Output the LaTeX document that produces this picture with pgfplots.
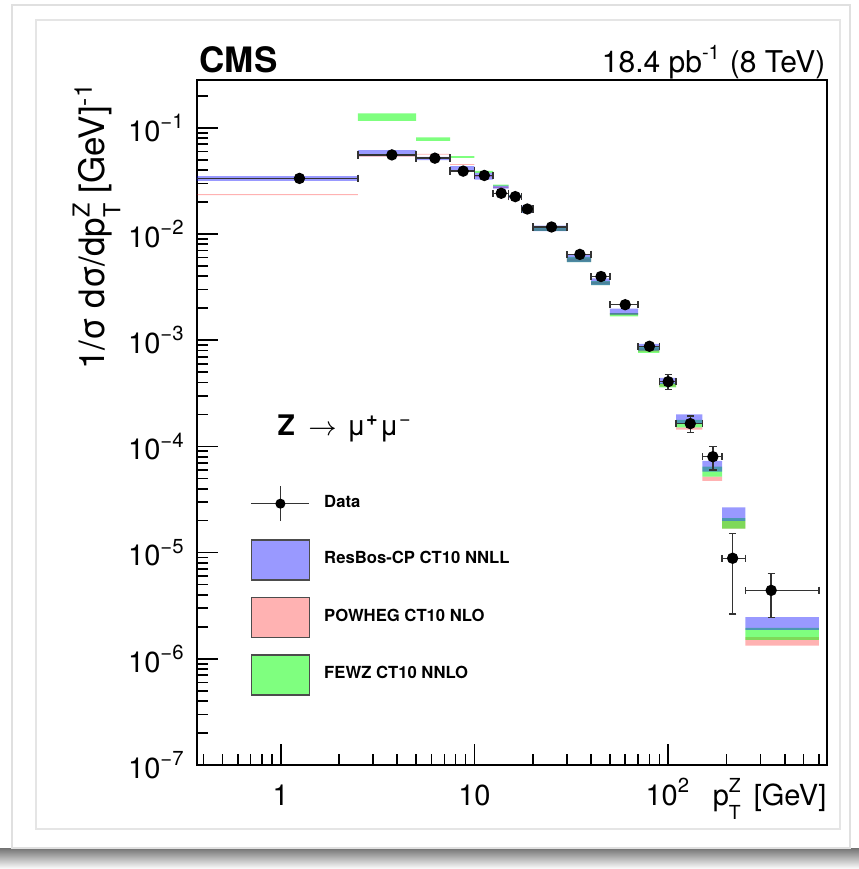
\documentclass[border=0pt]{standalone}
\usepackage{fontspec}
\setmainfont{TeX Gyre Heros}
\usepackage{pgfplots}
\usepackage{pgfplotstable}
\pgfplotsset{compat=1.18}

\pgfplotstableread{
x y xm xp ym yp
1.25 0.0334 0.95 1.25 0.0006 0.0006
3.75 0.0556 1.25 1.25 0.0008 0.0008
6.25 0.0518 1.25 1.25 0.0008 0.0008
8.75 0.0391 1.25 1.25 0.0006 0.0006
11.25 0.0356 1.25 1.25 0.0005 0.0005
13.75 0.0242 1.25 1.25 0.0004 0.0004
16.25 0.0225 1.25 1.25 0.0004 0.0004
18.75 0.0172 1.25 1.25 0.0003 0.0003
25 0.01165 5 5 0.0002 0.0002
35 0.00643 5 5 0.00012 0.00012
45 0.00398 5 5 0.00008 0.00008
60 0.00216 10 10 0.00005 0.00005
80 0.000877 10 10 0.00003 0.00003
100 0.000407 10 10 0.000064 0.000067
130 0.000164 20 20 0.000029 0.000030
170 0.0000800 20 20 0.0000198 0.0000193
215 0.00000885 25 35 0.00000622 0.00000625
340 0.00000441 90 260 0.00000197 0.00000193
}\datatable

\begin{document}
\begin{tikzpicture}
\useasboundingbox (-59.1pt,-31.2pt) rectangle (198.6pt,229.5pt);
% card decoration
\shade[top color=black!55, bottom color=white] (-59.1pt,-31.2pt) rectangle (198.6pt,-24.9pt);
\draw[black!12, line width=0.4pt] (-55.5pt,-24.9pt) rectangle (195.9pt,228pt);
\draw[black!10, line width=0.6pt] (-48.3pt,-19.2pt) rectangle (192.9pt,223.5pt);

\begin{axis}[
  at={(0pt,0pt)}, anchor=south west,
  scale only axis, width=189pt, height=205.5pt,
  xmode=log, ymode=log,
  xmin=0.37, xmax=660, ymin=1e-7, ymax=0.282,
  axis line style={line width=0.6pt},
  tick style={line width=0.5pt, black},
  tick align=inside, tick pos=left,
  major tick length=6.3pt, minor tick length=3.3pt,
  xtick={1,10,100}, xticklabels={1,10,10\textsuperscript{2}},
  minor xtick={0.4,0.5,0.6,0.7,0.8,0.9,2,3,4,5,6,7,8,9,20,30,40,50,60,70,80,90,200,300,400,500,600},
  ytick={1e-7,1e-6,1e-5,1e-4,1e-3,1e-2,1e-1},
  yticklabels={10\textsuperscript{−7},10\textsuperscript{−6},10\textsuperscript{−5},10\textsuperscript{−4},10\textsuperscript{−3},10\textsuperscript{−2},10\textsuperscript{−1}},
  minor ytick={2e-7,3e-7,4e-7,5e-7,6e-7,7e-7,8e-7,9e-7,
    2e-6,3e-6,4e-6,5e-6,6e-6,7e-6,8e-6,9e-6,
    2e-5,3e-5,4e-5,5e-5,6e-5,7e-5,8e-5,9e-5,
    2e-4,3e-4,4e-4,5e-4,6e-4,7e-4,8e-4,9e-4,
    2e-3,3e-3,4e-3,5e-3,6e-3,7e-3,8e-3,9e-3,
    2e-2,3e-2,4e-2,5e-2,6e-2,7e-2,8e-2,9e-2,2e-1},
  ticklabel style={font=\fontsize{8.7}{10}\selectfont},
  xticklabel style={anchor=base, yshift=-12pt},
  unbounded coords=jump,
  legend style={at={(0.084,0.4117)}, anchor=north west, draw=none, fill=none,
    inner sep=0pt, row sep=4.7pt, column sep=4.2pt,
    font=\bfseries\fontsize{5}{6}\selectfont,
    cells={anchor=west}, nodes={inner sep=0pt}},
]
% POWHEG (pink)
\addplot[forget plot, draw=none, fill=red, fill opacity=0.3] coordinates {
(0.3,0.0232)(2.5,0.0232)(2.5,0.0237)(0.3,0.0237)(nan,nan)
(2.5,0.0536)(5,0.0536)(5,0.0546)(2.5,0.0546)(nan,nan)
(5,0.0560)(7.5,0.0560)(7.5,0.0570)(5,0.0570)(nan,nan)
(7.5,0.0447)(10,0.0447)(10,0.0456)(7.5,0.0456)(nan,nan)
(10,0.0345)(12.5,0.0345)(12.5,0.0352)(10,0.0352)(nan,nan)
(12.5,0.0272)(15,0.0272)(15,0.0280)(12.5,0.0280)(nan,nan)
(15,0.0220)(17.5,0.0220)(17.5,0.0228)(15,0.0228)(nan,nan)
(17.5,0.0160)(20,0.0160)(20,0.0172)(17.5,0.0172)(nan,nan)
(20,0.0107)(30,0.0107)(30,0.0113)(20,0.0113)(nan,nan)
(30,0.00550)(40,0.00550)(40,0.00590)(30,0.00590)(nan,nan)
(40,0.00335)(50,0.00335)(50,0.00355)(40,0.00355)(nan,nan)
(50,0.00172)(70,0.00172)(70,0.00180)(50,0.00180)(nan,nan)
(70,0.00078)(90,0.00078)(90,0.00084)(70,0.00084)(nan,nan)
(90,0.000365)(110,0.000365)(110,0.00039)(90,0.00039)(nan,nan)
(110,0.000144)(150,0.000144)(150,0.000151)(110,0.000151)(nan,nan)
(150,0.0000475)(190,0.0000475)(190,0.000052)(150,0.000052)(nan,nan)
(190,0.0000168)(250,0.0000168)(250,0.0000199)(190,0.0000199)(nan,nan)
(250,0.00000133)(600,0.00000133)(600,0.0000016)(250,0.0000016)
};
% FEWZ (green)
\addplot[forget plot, draw=none, fill=green, fill opacity=0.5] coordinates {
(2.5,0.116)(5,0.116)(5,0.137)(2.5,0.137)(nan,nan)
(5,0.0754)(7.5,0.0754)(7.5,0.0812)(5,0.0812)(nan,nan)
(7.5,0.0520)(10,0.0520)(10,0.0540)(7.5,0.0540)(nan,nan)
(10,0.0377)(12.5,0.0377)(12.5,0.0394)(10,0.0394)(nan,nan)
(12.5,0.0282)(15,0.0282)(15,0.0292)(12.5,0.0292)(nan,nan)
(15,0.0224)(17.5,0.0224)(17.5,0.0232)(15,0.0232)(nan,nan)
(17.5,0.0160)(20,0.0160)(20,0.0180)(17.5,0.0180)(nan,nan)
(20,0.0107)(30,0.0107)(30,0.0115)(20,0.0115)(nan,nan)
(30,0.00545)(40,0.00545)(40,0.0061)(30,0.0061)(nan,nan)
(40,0.0033)(50,0.0033)(50,0.0036)(40,0.0036)(nan,nan)
(50,0.00168)(70,0.00168)(70,0.00180)(50,0.00180)(nan,nan)
(70,0.00076)(90,0.00076)(90,0.00086)(70,0.00086)(nan,nan)
(90,0.00036)(110,0.00036)(110,0.000395)(90,0.000395)(nan,nan)
(110,0.000151)(150,0.000151)(150,0.000178)(110,0.000178)(nan,nan)
(150,0.000052)(190,0.000052)(190,0.0000645)(150,0.0000645)(nan,nan)
(190,0.0000168)(250,0.0000168)(250,0.0000211)(190,0.0000211)(nan,nan)
(250,0.00000151)(600,0.00000151)(600,0.00000196)(250,0.00000196)
};
% ResBos (blue)
\addplot[forget plot, draw=none, fill=blue, fill opacity=0.4] coordinates {
(0.3,0.0316)(2.5,0.0316)(2.5,0.0350)(0.3,0.0350)(nan,nan)
(2.5,0.0540)(5,0.0540)(5,0.0617)(2.5,0.0617)(nan,nan)
(5,0.0496)(7.5,0.0496)(7.5,0.0533)(5,0.0533)(nan,nan)
(7.5,0.0394)(10,0.0394)(10,0.0436)(7.5,0.0436)(nan,nan)
(10,0.0326)(12.5,0.0326)(12.5,0.0377)(10,0.0377)(nan,nan)
(12.5,0.0268)(15,0.0268)(15,0.0285)(12.5,0.0285)(nan,nan)
(15,0.0218)(17.5,0.0218)(17.5,0.0232)(15,0.0232)(nan,nan)
(17.5,0.0158)(20,0.0158)(20,0.0185)(17.5,0.0185)(nan,nan)
(20,0.01066)(30,0.01066)(30,0.0120)(20,0.0120)(nan,nan)
(30,0.00545)(40,0.00545)(40,0.0064)(30,0.0064)(nan,nan)
(40,0.0033)(50,0.0033)(50,0.00382)(40,0.00382)(nan,nan)
(50,0.00174)(70,0.00174)(70,0.00198)(50,0.00198)(nan,nan)
(70,0.00080)(90,0.00080)(90,0.000925)(70,0.000925)(nan,nan)
(90,0.000389)(110,0.000389)(110,0.000441)(90,0.000441)(nan,nan)
(110,0.000165)(150,0.000165)(150,0.000200)(110,0.000200)(nan,nan)
(150,0.000058)(190,0.000058)(190,0.0000733)(150,0.0000733)(nan,nan)
(190,0.0000199)(250,0.0000199)(250,0.0000266)(190,0.0000266)(nan,nan)
(250,0.00000187)(600,0.00000187)(600,0.00000247)(250,0.00000247)
};
% Data
\addplot[forget plot, only marks, mark=*, mark size=1.5pt, black,
  error bars/.cd, x dir=both, x explicit, y dir=both, y explicit,
  error bar style={line width=0.45pt, black!80},
  error mark options={rotate=90, mark size=1.1pt, line width=0.45pt, black!80}]
  table[x=x, y=y, x error minus=xm, x error plus=xp, y error minus=ym, y error plus=yp]{\datatable};

\addlegendimage{legend image code/.code={
  \path[draw=none, fill=none] (0pt,-6pt) rectangle (17.4pt,6pt);
  \draw[black!80, line width=0.4pt] (0pt,0pt) -- (17.4pt,0pt) (8.7pt,-5.25pt) -- (8.7pt,5.25pt);
  \fill[black] (8.7pt,0pt) circle (1.3pt);}}
\addlegendentry{Data}
\addlegendimage{legend image code/.code={
  \fill[blue, fill opacity=0.4] (0pt,-6pt) rectangle (17.4pt,6pt);
  \draw[black!70, line width=0.5pt] (0pt,-6pt) rectangle (17.4pt,6pt);}}
\addlegendentry{ResBos-CP CT10 NNLL}
\addlegendimage{legend image code/.code={
  \fill[red, fill opacity=0.3] (0pt,-6pt) rectangle (17.4pt,6pt);
  \draw[black!70, line width=0.5pt] (0pt,-6pt) rectangle (17.4pt,6pt);}}
\addlegendentry{POWHEG CT10 NLO}
\addlegendimage{legend image code/.code={
  \fill[green, fill opacity=0.5] (0pt,-6pt) rectangle (17.4pt,6pt);
  \draw[black!70, line width=0.5pt] (0pt,-6pt) rectangle (17.4pt,6pt);}}
\addlegendentry{FEWZ CT10 NNLO}
\end{axis}

\node[anchor=base west, font=\bfseries\fontsize{10.5}{12}\selectfont, inner sep=0pt] at (0.6pt,207.9pt) {CMS};
\node[anchor=base east, font=\fontsize{9}{11}\selectfont, inner sep=0pt] at (188.7pt,207.9pt) {18.4 pb\textsuperscript{-1} (8 TeV)};
\node[rotate=90, anchor=base east, font=\fontsize{10.5}{12}\selectfont, inner sep=0pt] at (-27.6pt,204.9pt) {1/σ dσ/dp\rlap{\raisebox{4.6pt}{\fontsize{7}{7}\selectfont Z}}\raisebox{-4.6pt}{\fontsize{7}{7}\selectfont T} [GeV]\textsuperscript{-1}};
\node[anchor=base east, font=\fontsize{8.7}{10}\selectfont, inner sep=0pt] at (189pt,-12pt) {p\rlap{\raisebox{3.9pt}{\fontsize{5.8}{6}\selectfont Z}}\raisebox{-4.2pt}{\fontsize{5.8}{6}\selectfont T}\hspace{1.5pt} [GeV]};
\node[anchor=base west, font=\fontsize{8.5}{10}\selectfont, inner sep=0pt] at (24pt,99pt) {\textbf{Z}\hspace{4pt}$\rightarrow$\hspace{3pt}μ\textsuperscript{\textbf{+}}μ\textsuperscript{−}};
\end{tikzpicture}
\end{document}
